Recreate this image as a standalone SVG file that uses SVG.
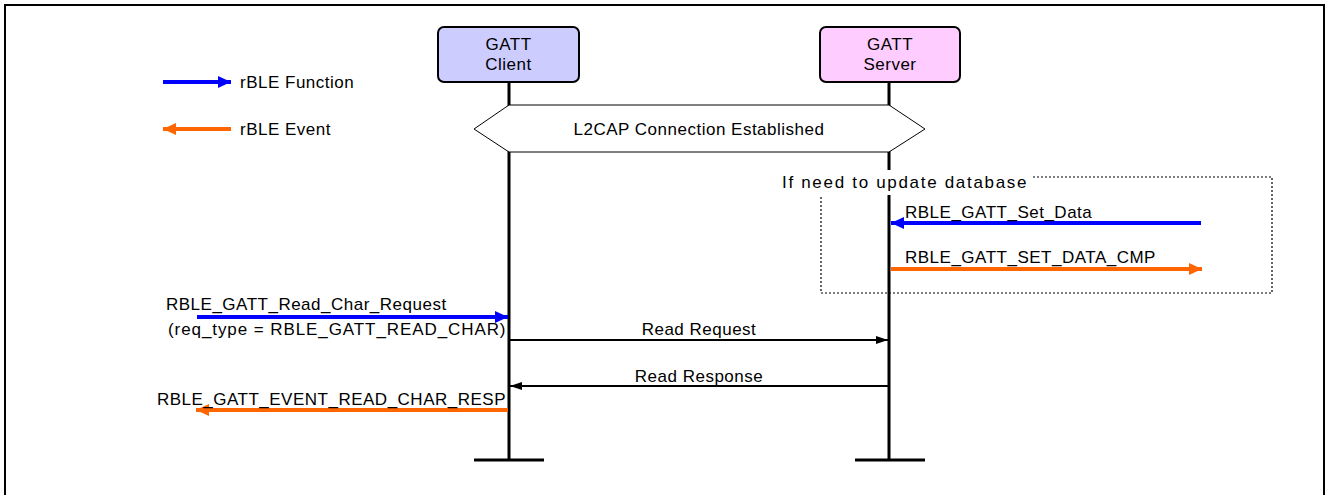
<svg xmlns="http://www.w3.org/2000/svg" width="1326" height="495" viewBox="0 0 1326 495">
<style>
text{font-family:"Liberation Sans",Arial,sans-serif;font-size:17px;fill:#000;letter-spacing:0.5px}
.life{stroke:#000;stroke-width:3;fill:none}
.fn{stroke:#0000FF;stroke-width:4;fill:none}
.ev{stroke:#FF6600;stroke-width:4;fill:none}
.msg{stroke:#000;stroke-width:2;fill:none}
</style>
<defs>
<marker id="hb" markerWidth="13" markerHeight="12" refX="13" refY="6" orient="auto" markerUnits="userSpaceOnUse"><path d="M0,0 L13,6 L0,12 Z" fill="#0000FF"/></marker>
<marker id="ho" markerWidth="13" markerHeight="12" refX="13" refY="6" orient="auto" markerUnits="userSpaceOnUse"><path d="M0,0 L13,6 L0,12 Z" fill="#FF6600"/></marker>
<marker id="hk" markerWidth="12" markerHeight="10" refX="12" refY="5" orient="auto" markerUnits="userSpaceOnUse"><path d="M0,1 L12,5 L0,9 Z" fill="#000"/></marker>
</defs>
<rect x="0" y="0" width="1326" height="495" fill="#fff"/>
<path d="M5,500 V5 H1324 V500" fill="none" stroke="#000" stroke-width="2"/>

<g id="legend">
<line x1="163" y1="82" x2="231" y2="82" class="fn" marker-end="url(#hb)"/>
<text x="240" y="88">rBLE Function</text>
<line x1="231" y1="129" x2="163" y2="129" class="ev" marker-end="url(#ho)"/>
<text x="240" y="135">rBLE Event</text>
</g>

<g id="lifelines">
<line x1="509" y1="82" x2="509" y2="460" class="life"/>
<line x1="474" y1="460" x2="544" y2="460" class="life"/>
<line x1="889" y1="82" x2="889" y2="460" class="life"/>
<line x1="855" y1="460" x2="925" y2="460" class="life"/>
</g>

<g id="client">
<rect x="438" y="27" width="141" height="55" rx="6" fill="#CCCCFF" stroke="#000" stroke-width="2"/>
<text x="508.5" y="50" text-anchor="middle">GATT</text>
<text x="508.5" y="70" text-anchor="middle">Client</text>
</g>

<g id="server">
<rect x="820" y="27" width="140" height="55" rx="6" fill="#FFCCFF" stroke="#000" stroke-width="2"/>
<text x="890" y="50" text-anchor="middle">GATT</text>
<text x="890" y="70" text-anchor="middle">Server</text>
</g>

<g id="l2cap">
<path d="M474,129 L509,105 L889,105 L925,129 L889,152 L509,152 Z" fill="#fff" stroke="#000" stroke-width="1"/>
<text x="699" y="135" text-anchor="middle">L2CAP Connection Established</text>
</g>

<g id="frame-update">
<rect x="821" y="177" width="451" height="116" fill="none" stroke="#000" stroke-width="1.2" stroke-dasharray="2,2"/>
<rect x="778" y="170" width="255" height="25" fill="#fff"/>
<text x="782" y="188" textLength="245" lengthAdjust="spacing">If need to update database</text>
</g>

<g id="connectors">
<line x1="1201" y1="223" x2="891" y2="223" class="fn" marker-end="url(#hb)"/>
<text x="905" y="218">RBLE_GATT_Set_Data</text>
<line x1="891" y1="269" x2="1202" y2="269" class="ev" marker-end="url(#ho)"/>
<text x="905" y="263">RBLE_GATT_SET_DATA_CMP</text>

<line x1="197" y1="317" x2="508" y2="317" class="fn" marker-end="url(#hb)"/>
<text x="166" y="310">RBLE_GATT_Read_Char_Request</text>
<text x="168" y="335" textLength="338" lengthAdjust="spacing">(req_type = RBLE_GATT_READ_CHAR)</text>

<line x1="510" y1="340" x2="888" y2="340" class="msg" marker-end="url(#hk)"/>
<text x="699" y="335" text-anchor="middle">Read Request</text>

<line x1="888" y1="386" x2="510" y2="386" class="msg" marker-end="url(#hk)"/>
<text x="699" y="382" text-anchor="middle">Read Response</text>

<line x1="508" y1="410" x2="196" y2="410" class="ev" marker-end="url(#ho)"/>
<text x="506" y="405" text-anchor="end">RBLE_GATT_EVENT_READ_CHAR_RESP</text>
</g>
</svg>
